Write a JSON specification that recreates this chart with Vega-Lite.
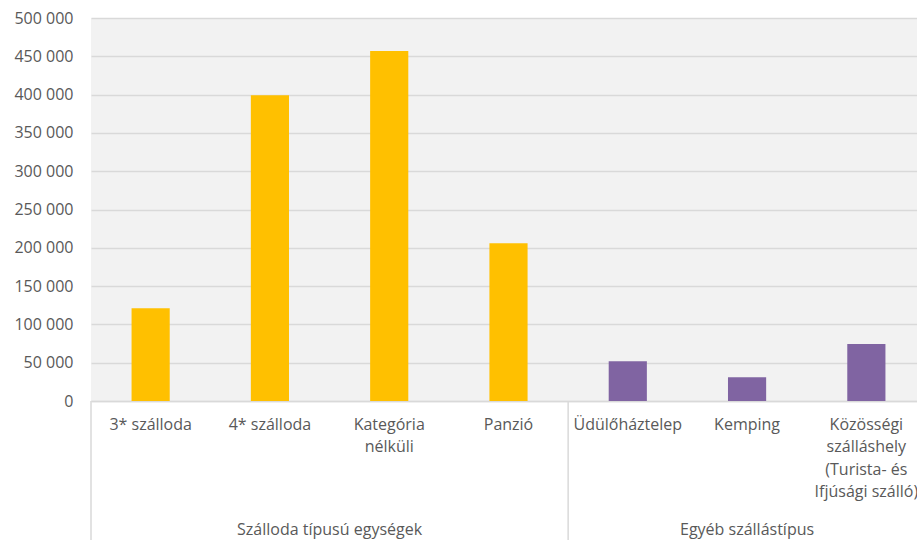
{
  "$schema": "https://vega.github.io/schema/vega-lite/v6.json",
  "autosize": "none",
  "width": 826,
  "height": 383,
  "padding": {"left": 91, "top": 18, "right": 0, "bottom": 139},
  "background": "#ffffff",
  "config": {
    "view": {"fill": "#f2f2f2", "stroke": null},
    "font": "Open Sans"
  },
  "data": {
    "values": [
      {"category": "3* szálloda", "group": "Szálloda típusú egységek", "value": 121000},
      {"category": "4* szálloda", "group": "Szálloda típusú egységek", "value": 399000},
      {"category": "Kategória nélküli", "group": "Szálloda típusú egységek", "value": 457000},
      {"category": "Panzió", "group": "Szálloda típusú egységek", "value": 206000},
      {"category": "Üdülőháztelep", "group": "Egyéb szállástípus", "value": 52000},
      {"category": "Kemping", "group": "Egyéb szállástípus", "value": 31000},
      {"category": "Közösségi szálláshely (Turista- és Ifjúsági szálló)", "group": "Egyéb szállástípus", "value": 74500}
    ]
  },
  "encoding": {
    "y": {
      "type": "quantitative",
      "scale": {"domain": [0, 500000], "nice": false, "zero": false},
      "axis": {
        "title": null, "tickCount": 10,
        "labelExpr": "replace(format(datum.value, ',d'), ',', ' ')",
        "domain": false, "ticks": false,
        "gridColor": "#d9d9d9", "gridWidth": 1.5,
        "labelColor": "#595959", "labelFontSize": 16, "labelPadding": 18,
        "labelOverlap": false, "labelBound": false
      }
    }
  },
  "layer": [
    {
      "mark": {"type": "bar", "width": {"band": 0.32}},
      "encoding": {
        "x": {
          "field": "category", "type": "nominal", "sort": null,
          "scale": {"paddingInner": 0, "paddingOuter": 0, "range": [0, 835]},
          "axis": {
            "title": null, "labelAngle": 0, "ticks": false,
            "domainColor": "#d9d9d9", "domainWidth": 1.5,
            "labelColor": "#595959", "labelFontSize": 16, "labelPadding": 15,
            "labelBaseline": "top", "labelLineHeight": 22.5,
            "labelOverlap": false, "labelBound": false, "labelLimit": 300,
            "labelExpr": "datum.label == 'Kategória nélküli' ? ['Kategória','nélküli'] : datum.label == 'Közösségi szálláshely (Turista- és Ifjúsági szálló)' ? ['Közösségi','szálláshely','(Turista- és','Ifjúsági szálló)'] : datum.label"
          }
        },
        "y": {"field": "value"},
        "color": {
          "field": "group", "type": "nominal",
          "scale": {"domain": ["Szálloda típusú egységek", "Egyéb szállástípus"], "range": ["#ffc000", "#8064a2"]},
          "legend": null
        }
      }
    },
    {
      "transform": [{"filter": {"field": "category", "oneOf": ["3* szálloda", "Üdülőháztelep"]}}],
      "mark": {"type": "rule", "color": "#d9d9d9", "strokeWidth": 1.5},
      "encoding": {
        "x": {"field": "category", "type": "nominal", "sort": null, "bandPosition": 0},
        "y": {"datum": 0},
        "y2": {"datum": -200000}
      }
    },
    {
      "transform": [{"filter": {"field": "category", "equal": "4* szálloda"}}],
      "mark": {"type": "text", "color": "#595959", "fontSize": 16, "baseline": "middle", "align": "center"},
      "encoding": {
        "x": {"field": "category", "type": "nominal", "sort": null, "bandPosition": 1},
        "y": {"datum": -168400},
        "text": {"field": "group"}
      }
    },
    {
      "transform": [{"filter": {"field": "category", "equal": "Kemping"}}],
      "mark": {"type": "text", "color": "#595959", "fontSize": 16, "baseline": "middle", "align": "center"},
      "encoding": {
        "x": {"field": "category", "type": "nominal", "sort": null, "bandPosition": 0.5},
        "y": {"datum": -168400},
        "text": {"field": "group"}
      }
    }
  ]
}
